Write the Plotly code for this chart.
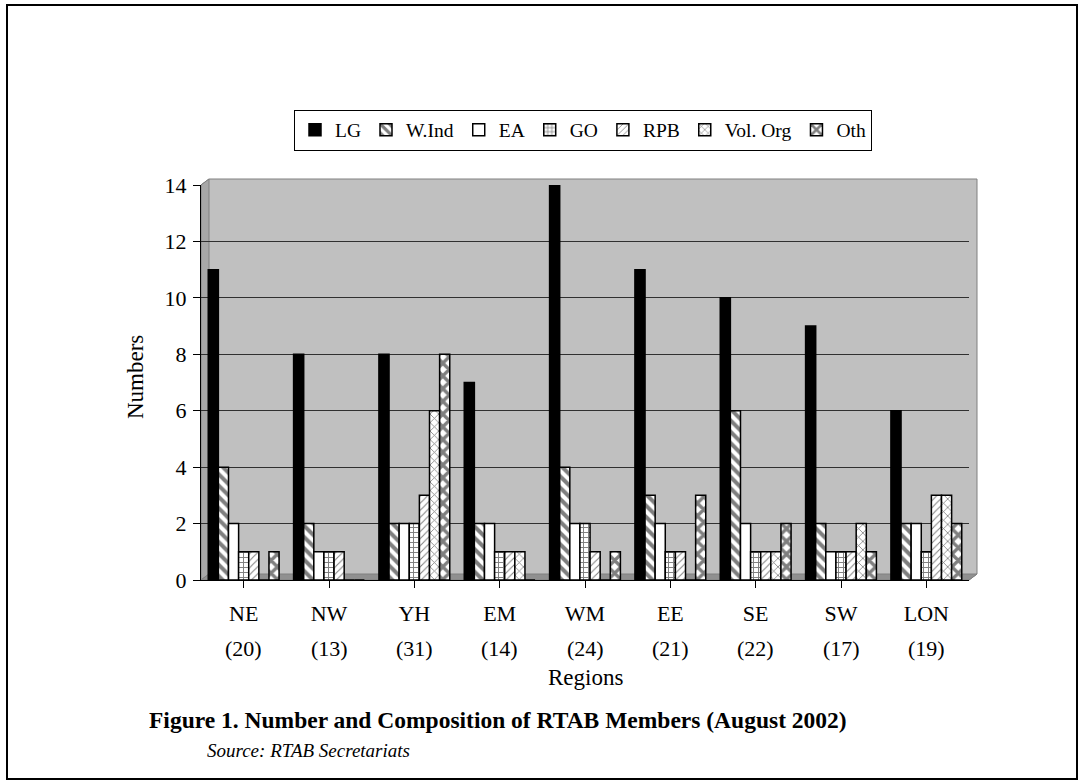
import plotly.graph_objects as go

regions = ["NE", "NW", "YH", "EM", "WM", "EE", "SE", "SW", "LON"]
totals = ["(20)", "(13)", "(31)", "(14)", "(24)", "(21)", "(22)", "(17)", "(19)"]
series_names = ["LG", "W.Ind", "EA", "GO", "RPB", "Vol. Org", "Oth"]
LG = [11, 8, 8, 7, 14, 11, 10, 9, 6]
W_Ind = [4, 2, 2, 2, 4, 3, 6, 2, 2]
EA = [2, 1, 2, 2, 2, 2, 2, 1, 2]
GO = [1, 1, 2, 1, 2, 1, 1, 1, 1]
RPB = [1, 1, 3, 1, 1, 1, 1, 1, 3]
Vol_Org = [0, 0, 6, 1, 0, 0, 1, 2, 3]
Oth = [1, 0, 8, 0, 1, 3, 2, 1, 2]
y_ticks = [0, 2, 4, 6, 8, 10, 12, 14]

values = [LG, W_Ind, EA, GO, RPB, Vol_Org, Oth]
styles = [
    dict(color="black"),
    dict(color="white", pattern=dict(shape="\\", fgcolor="black", bgcolor="white", size=8, solidity=0.5)),
    dict(color="white"),
    dict(color="white", pattern=dict(shape="+", fgcolor="black", bgcolor="white", size=5, solidity=0.35)),
    dict(color="white", pattern=dict(shape="/", fgcolor="black", bgcolor="white", size=5, solidity=0.2)),
    dict(color="white", pattern=dict(shape="x", fgcolor="black", bgcolor="white", size=6, solidity=0.25)),
    dict(color="white", pattern=dict(shape="x", fgcolor="black", bgcolor="white", size=9, solidity=0.6)),
]

serif = "Liberation Serif, Times New Roman, serif"

# plot-area geometry in pixels (used to convert decoration positions to paper coords)
L, R, T, B = 201, 969, 185, 580
W, H = R - L, B - T


def px(x):
    return (x - L) / W


def py(y):
    return (B - y) / H


fig = go.Figure()
for name, vals, st in zip(series_names, values, styles):
    marker = dict(st)
    marker["line"] = dict(color="black", width=1.5)
    fig.add_trace(go.Bar(name=name, x=regions, y=vals, marker=marker))

fig.update_layout(
    width=1084, height=784,
    paper_bgcolor="white", plot_bgcolor="rgba(0,0,0,0)",
    barmode="group", bargap=0.17, bargroupgap=0,
    margin=dict(l=L, r=1084 - R, t=T, b=784 - B, autoexpand=False),
    font=dict(family=serif, size=22, color="black"),
    legend=dict(orientation="h", x=px(583), xanchor="center", y=py(130), yanchor="middle",
                bordercolor="black", borderwidth=1, bgcolor="white",
                font=dict(family=serif, size=19.5), itemwidth=30, traceorder="normal"),
    showlegend=True,
)

fig.update_xaxes(
    type="category", showline=True, linecolor="black", linewidth=1,
    ticks="outside", ticklen=7, tickcolor="black", showgrid=False,
    tickfont=dict(family=serif, size=22), ticklabelstandoff=7,
    automargin=False,
)
fig.update_yaxes(
    range=[0, 14], tickvals=y_ticks, showline=True, linecolor="black", linewidth=1,
    ticks="outside", ticklen=7, tickcolor="black",
    showgrid=True, gridcolor="#303030", gridwidth=1,
    tickfont=dict(family=serif, size=22), ticklabelstandoff=2,
    zeroline=False, automargin=False,
)

# 3D-style chart walls
back = [(201, 580), (201, 185), (209, 179), (977, 179), (977, 574), (969, 580)]
fig.add_shape(type="path", xref="paper", yref="paper",
              path="M " + " L ".join(f"{px(a)},{py(b)}" for a, b in back) + " Z",
              fillcolor="#c0c0c0", line=dict(color="#808080", width=1), layer="below")
left_wall = [(201, 580), (201, 185), (209, 179), (209, 574)]
fig.add_shape(type="path", xref="paper", yref="paper",
              path="M " + " L ".join(f"{px(a)},{py(b)}" for a, b in left_wall) + " Z",
              fillcolor="#a8a8a8", line=dict(color="#808080", width=1), layer="below")
floor = [(201, 580), (969, 580), (977, 574), (209, 574)]
fig.add_shape(type="path", xref="paper", yref="paper",
              path="M " + " L ".join(f"{px(a)},{py(b)}" for a, b in floor) + " Z",
              fillcolor="#909090", line=dict(color="#808080", width=1), layer="below")

for r, t in zip(regions, totals):
    fig.add_annotation(x=r, xref="x", y=py(648), yref="paper", text=t, showarrow=False,
                       font=dict(family=serif, size=22), yanchor="middle")

fig.add_annotation(x=px(585), xref="paper", y=py(677), yref="paper", text="Regions",
                   showarrow=False, font=dict(family=serif, size=23), yanchor="middle")
fig.add_annotation(x=px(135), xref="paper", y=py(377), yref="paper", text="Numbers",
                   textangle=-90, showarrow=False, font=dict(family=serif, size=23),
                   xanchor="center", yanchor="middle")

fig.add_annotation(x=px(498), xref="paper", y=py(720), yref="paper",
                   text="<b>Figure 1. Number and Composition of RTAB Members (August 2002)</b>",
                   showarrow=False, font=dict(family=serif, size=23.5), xanchor="center", yanchor="middle")
fig.add_annotation(x=px(205), xref="paper", y=py(750), yref="paper",
                   text="<i>Source: RTAB Secretariats</i>",
                   showarrow=False, font=dict(family=serif, size=19), xanchor="left", yanchor="middle")

# outer frame
fig.add_shape(type="rect", xref="paper", yref="paper",
              x0=px(7), x1=px(1077), y0=py(779), y1=py(5),
              line=dict(color="black", width=2), fillcolor="rgba(0,0,0,0)", layer="below")

fig.write_html("out.html", config={"displayModeBar": False},
               post_script="document.body.style.margin='0px';")
